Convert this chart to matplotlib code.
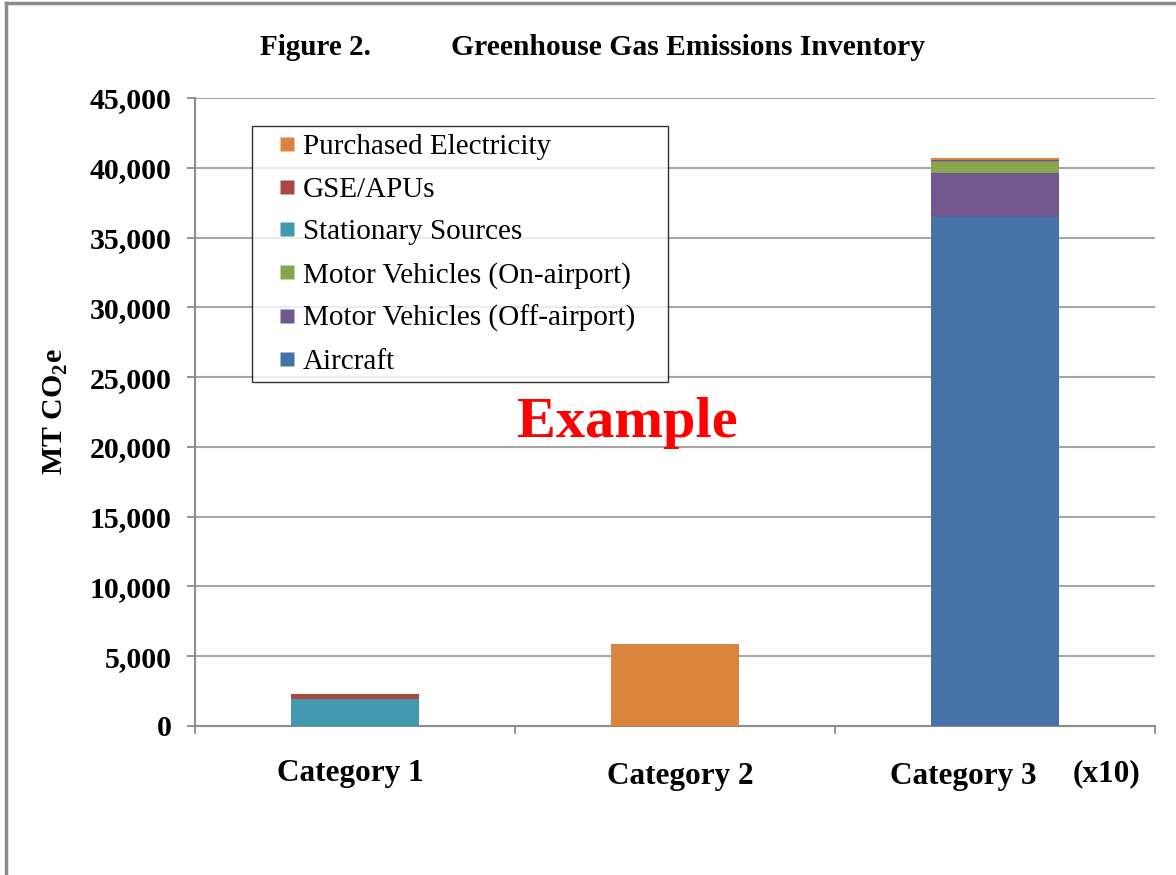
import numpy as np
import matplotlib
matplotlib.use('Agg')
import matplotlib.pyplot as plt
from matplotlib.lines import Line2D
import matplotlib.transforms as mtransforms

plt.rcParams['font.family'] = ['Liberation Serif', 'DejaVu Serif']
plt.rcParams['mathtext.fontset'] = 'custom'
plt.rcParams['mathtext.rm'] = 'Liberation Serif:bold'
plt.rcParams['mathtext.bf'] = 'Liberation Serif:bold'

# Emissions by source, MT CO2e (Category 3 shown x10)
categories = ['Category 1', 'Category 2', 'Category 3']
aircraft = [0, 0, 36500]
off_airport = [0, 0, 3150]
on_airport = [0, 0, 780]
stationary = [1900, 0, 70]
gse_apus = [400, 0, 90]
electricity = [0, 5850, 120]

series_names = ['Aircraft', 'Motor Vehicles (Off-airport)', 'Motor Vehicles (On-airport)',
                'Stationary Sources', 'GSE/APUs', 'Purchased Electricity']
series_colors = ['#4572A7', '#71588F', '#89A54E', '#4198AF', '#AA4643', '#DB843D']
yticks = np.arange(0, 45001, 5000)

fig = plt.figure(figsize=(11.76, 8.75), dpi=100)
ax = fig.add_axes([0.1658, 0.1703, 0.8162, 0.7177])

x = np.arange(1, len(categories) + 1)
bottom = np.zeros(len(categories))
for vals, name, col in zip([aircraft, off_airport, on_airport, stationary, gse_apus, electricity],
                           series_names, series_colors):
    vals = np.array(vals, dtype=float)
    ax.bar(x, vals, width=0.4, bottom=bottom, color=col, label=name, zorder=3)
    bottom += vals

ax.set_xlim(0.5, 3.5)
ax.set_ylim(0, 45000)
ax.set_yticks(yticks)
ax.set_yticklabels([f'{v:,}' for v in yticks], fontsize=21.5, fontweight='bold')
ax.yaxis.grid(True, color='#A6A6A6', linewidth=1.5, zorder=0)
ax.set_xticks([0.5, 1.5, 2.5, 3.5])
ax.set_xticklabels([])
ax.tick_params(axis='x', direction='out', length=6, color='#8C8C8C', width=1.3)
ax.tick_params(axis='y', direction='out', length=6, color='#8C8C8C', width=1.3, pad=11)
for s in ['top', 'right']:
    ax.spines[s].set_visible(False)
for s in ['left', 'bottom']:
    ax.spines[s].set_color('#8C8C8C')
    ax.spines[s].set_linewidth(1.5)

ax.set_ylabel(r'MT CO$_{\mathbf{2}}$e', fontsize=21.5, fontweight='bold', labelpad=14)

# category labels below the axis
trans = mtransforms.blended_transform_factory(ax.transData, fig.transFigure)
offsets = [-0.016, 0.016, -0.1]
ypos = [0.116, 0.113, 0.113]
for xi, lab, dx, yy in zip(x, categories, offsets, ypos):
    ax.text(xi + dx, yy, lab, transform=trans, ha='center', va='center',
            fontsize=22.5, fontweight='bold')
ax.text(3.35, 0.116, '(x10)', transform=trans, ha='center', va='center',
        fontsize=22.5, fontweight='bold')

fig.text(0.268, 0.946, 'Figure 2.', ha='center', va='center', fontsize=21, fontweight='bold')
fig.text(0.585, 0.946, 'Greenhouse Gas Emissions Inventory', ha='center', va='center',
         fontsize=21.3, fontweight='bold')

ax.text(1.85, 21700, 'Example', color='#FF0000', ha='center', va='center',
        fontsize=42, fontweight='bold', zorder=5)

handles = [Line2D([], [], linestyle='none', marker='s', markersize=10,
                  markerfacecolor=c, markeredgecolor='none') for c in series_colors][::-1]
leg = ax.legend(handles, series_names[::-1], loc='upper left', mode='expand',
                bbox_to_anchor=(0.0594, 0, 0.4333, 0.955), fontsize=21, frameon=True,
                fancybox=False, handlelength=1.9, handletextpad=-0.4,
                labelspacing=0.56, borderpad=0.25, borderaxespad=0)
leg.get_frame().set_edgecolor('#000000')
leg.get_frame().set_linewidth(1.0)
leg.set_zorder(6)

# page border along top and left
fig.add_artist(Line2D([0.005, 1.0], [0.9965, 0.9965], color='#8C8C8C', linewidth=2.5,
                      transform=fig.transFigure))
fig.add_artist(Line2D([0.005, 0.005], [0.0, 0.9965], color='#8C8C8C', linewidth=2.5,
                      transform=fig.transFigure))

fig.savefig('out.png', dpi=100, facecolor='white')
